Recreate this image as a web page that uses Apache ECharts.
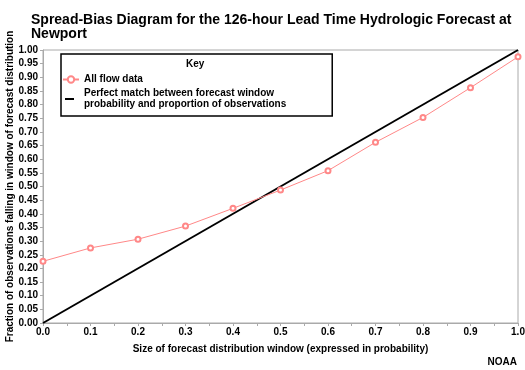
<!DOCTYPE html>
<html><head><meta charset="utf-8">
<script src="https://cdn.jsdelivr.net/npm/echarts@6/dist/echarts.min.js"></script>
<style>html,body{margin:0;padding:0;background:#fff}#c{width:525px;height:370px}</style>
</head><body><div id="c"></div>
<script>
const xValues = [0.0, 0.1, 0.2, 0.3, 0.4, 0.5, 0.6, 0.7, 0.8, 0.9, 1.0];
const allFlowData = [0.226, 0.275, 0.307, 0.355, 0.420, 0.487, 0.558, 0.662, 0.753, 0.862, 0.975];
const perfectX = [0, 1];
const perfectY = [0, 1];
const seriesNames = ['All flow data', 'Perfect match between forecast window\nprobability and proportion of observations'];

const F = 'Liberation Sans, Arial, sans-serif';
const chart = echarts.init(document.getElementById('c'), null, {renderer: 'canvas'});
chart.setOption({
  animation: false,
  backgroundColor: '#fff',
  title: {
    text: 'Spread-Bias Diagram for the 126-hour Lead Time Hydrologic Forecast at\nNewport',
    left: 26, top: 8,
    textStyle: {fontFamily: F, fontSize: 14, fontWeight: 'bold', color: '#000', lineHeight: 14}
  },
  graphic: [
    {type: 'text', left: 186, top: 59, style: {text: 'Key', font: 'bold 10px ' + F, fill: '#000'}},
    {type: 'text', right: 8, top: 357, style: {text: 'NOAA', font: 'bold 10px ' + F, fill: '#000'}}
  ],
  legend: {
    left: 61, top: 54,
    orient: 'vertical',
    padding: [20, 46, 6, 1],
    itemGap: 3,
    itemWidth: 16, itemHeight: 8,
    borderColor: '#000', borderWidth: 1.5,
    textStyle: {fontFamily: F, fontSize: 10, fontWeight: 'bold', color: '#000', lineHeight: 11},
    data: [
      {name: seriesNames[0]},
      {name: seriesNames[1], icon: 'path://M0,0 L0.01,0 M2,3 L11,3 L11,5 L2,5 Z M16,8 L15.99,8', itemStyle: {color: '#000'}}
    ]
  },
  grid: {left: 43, right: 7, top: 50, bottom: 47, show: true, borderColor: '#aaa', borderWidth: 1,
    containLabel: false, outerBoundsMode: 'none'},
  xAxis: {
    type: 'value', min: 0, max: 1, interval: 0.1,
    name: 'Size of forecast distribution window (expressed in probability)',
    nameLocation: 'middle', nameGap: 21, nameMoveOverlap: false,
    nameTextStyle: {fontFamily: F, fontSize: 10, fontWeight: 'bold', color: '#000'},
    axisLine: {lineStyle: {color: '#aaa'}},
    axisTick: {show: true, length: 3, lineStyle: {color: '#aaa'}},
    minorTick: {show: true, splitNumber: 2, length: 3, lineStyle: {color: '#aaa'}},
    splitLine: {show: false},
    axisLabel: {fontFamily: F, fontSize: 10, fontWeight: 'bold', color: '#000', margin: 4,
      formatter: v => v.toFixed(1)}
  },
  yAxis: {
    type: 'value', min: 0, max: 1, interval: 0.05,
    name: 'Fraction of observations falling in window of forecast distribution',
    nameLocation: 'middle', nameGap: 28, nameMoveOverlap: false,
    nameTextStyle: {fontFamily: F, fontSize: 10, fontWeight: 'bold', color: '#000'},
    axisLine: {show: true, lineStyle: {color: '#aaa'}},
    axisTick: {show: true, length: 3, lineStyle: {color: '#aaa'}},
    splitLine: {show: false},
    axisLabel: {fontFamily: F, fontSize: 10, fontWeight: 'bold', color: '#000', margin: 5,
      formatter: v => v.toFixed(2)}
  },
  series: [
    {
      name: seriesNames[0], type: 'line',
      data: xValues.map((x, i) => [x, allFlowData[i]]),
      symbol: 'emptyCircle', symbolSize: 5,
      lineStyle: {color: '#ff8888', width: 1},
      itemStyle: {color: '#ff8888', borderWidth: 1},
      z: 3
    },
    {
      name: seriesNames[1], type: 'line',
      data: perfectX.map((x, i) => [x, perfectY[i]]),
      symbol: 'none',
      lineStyle: {color: '#000', width: 2},
      itemStyle: {color: '#000'},
      z: 2
    }
  ]
});
</script></body></html>
